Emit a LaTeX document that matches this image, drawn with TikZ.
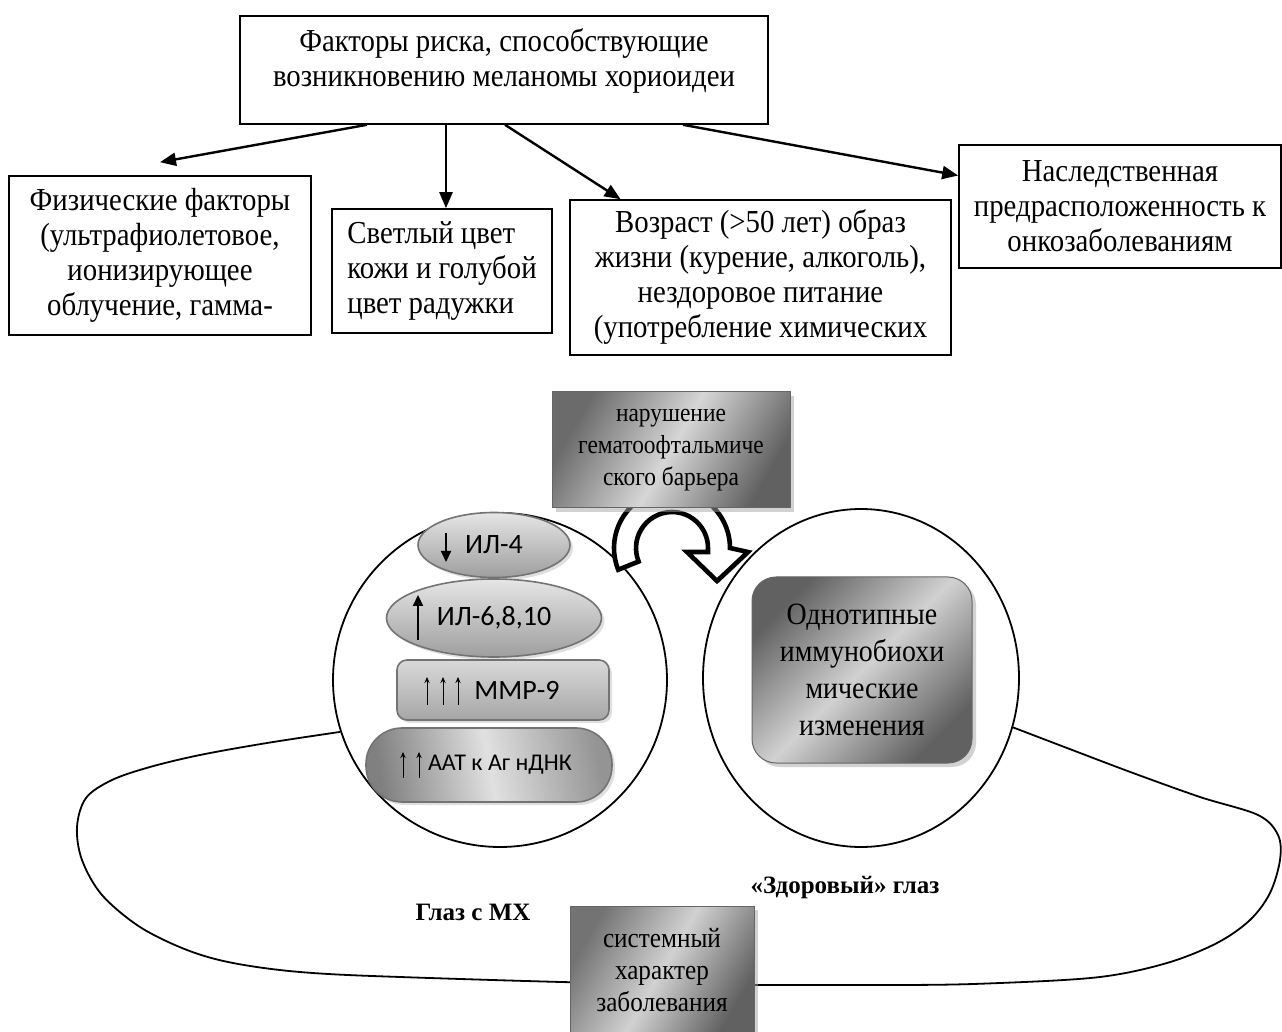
\documentclass[tikz,border=0pt]{standalone}
\usepackage{fontspec}
\setmainfont{Liberation Serif}
\newfontfamily\boxserif[FakeStretch=0.9]{Liberation Serif}
\newfontfamily\calibrifont{Carlito}
\usetikzlibrary{arrows.meta,shapes.geometric,shadows}

\begin{document}
\begin{tikzpicture}[x=0.5pt,y=-0.5pt,
    factor/.style={draw, line width=0.8pt, align=center, inner sep=0pt,
        font=\boxserif\fontsize{16}{17.5}\selectfont},
    link/.style={line width=1.2pt, -{Triangle[length=8pt,width=6.5pt]}},
    eye/.style={ellipse, draw, line width=0.9pt, inner sep=0pt},
    shadebox/.style={draw=black!60, line width=0.5pt, align=center, inner sep=0pt,
        drop shadow={shadow xshift=2pt, shadow yshift=-2pt, fill=black!35}},
    marker/.style={draw=black!55, line width=0.8pt, inner sep=0pt,
        font=\calibrifont\fontsize{14}{16}\selectfont,
        drop shadow={shadow xshift=1.5pt, shadow yshift=-1.5pt, fill=black!25}},
    level/.style={line width=1.1pt, -{Triangle[length=5.5pt,width=5pt]}},
    thinlevel/.style={line width=0.5pt, -{Stealth[length=3pt,width=2.6pt]}},
    uturn/.style={draw, fill=white, line width=2.3pt, line join=miter,
        drop shadow={shadow xshift=1pt, shadow yshift=-1pt, fill=black!30}},
    eyelabel/.style={font=\bfseries\fontsize{12.5}{14}\selectfont}
]
\useasboundingbox (0,0) rectangle (1282,1032);

% risk factors
\node[factor, minimum width=264pt, minimum height=54pt] (risk) at (504,70)
    {Факторы риска, способствующие\\возникновению меланомы хориоидеи\\[-5pt]};
\node[factor, minimum width=151pt, minimum height=79.5pt] (physical) at (160,255.5)
    {Физические факторы\\(ультрафиолетовое,\\ионизирующее\\облучение, гамма-};
\node[factor, minimum width=110pt, minimum height=62pt, align=left] (colour) at (442,271)
    {Светлый цвет\\кожи и голубой\\цвет радужки};
\node[factor, minimum width=190.5pt, minimum height=77.5pt] (lifestyle) at (760.5,277.5)
    {Возраст (>50 лет) образ\\жизни (курение, алкоголь),\\нездоровое питание\\(употребление химических};
\node[factor, minimum width=161pt, minimum height=61.5pt] (heredity) at (1120,206.5)
    {Наследственная\\предрасположенность к\\онкозаболеваниям};

\draw[link] ([shift={(-137,0)}]risk.south) -- ([shift={(0,-13)}]physical.north);
\draw[link] ([shift={(-58,0)}]risk.south) -- ([shift={(4,0)}]colour.north);
\draw[link] ([shift={(1,0)}]risk.south) -- ([shift={(-140,0)}]lifestyle.north);
\draw[link] ([shift={(179,0)}]risk.south) -- ([shift={(0,-31)}]heredity.west);

% eyes
\node[eye, minimum width=167pt, minimum height=167pt] (tumoreye) at (500,680) {};
\node[eye, minimum width=158pt, minimum height=169pt] (healthyeye) at (861,678) {};

\draw[line width=0.9pt] plot[smooth, tension=0.55] coordinates {(tumoreye.198)
    (267,743) (200,755) (150,767) (112,780) (86,798) (77,827) (82,860)
    (102,895) (140,927) (187,950) (233,963) (300,972) (400,977) (650,984)
    (900,985) (1000,983) (1100,977) (1167,963) (1217,943) (1250,920) (1270,893)
    (1280,860) (1278,835) (1258,815) (1200,797) (1133,773) (1067,748)
    (healthyeye.342)};

\draw[uturn] (672,548) ++(158:58) arc[start angle=158, end angle=360, radius=58]
    -- (748,552) -- (717,581) -- (687,552) -- (708,552) -- (708,548)
    arc[start angle=0, end angle=-202, radius=36] -- cycle;

\node[shadebox, left color=black!58, right color=black!62, middle color=black!16,
    shading angle=60, minimum width=119pt, minimum height=58pt,
    font=\boxserif\fontsize{13}{16}\selectfont] (barrier) at (671,450)
    {нарушение\\гематоофтальмиче\\ского барьера};

\node[marker, ellipse, top color=black!10, bottom color=black!38,
    minimum width=76pt, minimum height=32.5pt] (il4) at (494,545) {ИЛ-4};
\node[marker, ellipse, top color=black!10, bottom color=black!38,
    minimum width=107.5pt, minimum height=39pt] (il6) at (494,618) {ИЛ-6,8,10};
\node[marker, rounded corners=5pt, top color=black!15, bottom color=black!35,
    minimum width=106pt, minimum height=30pt] (mmp) at (503,690) {\hspace*{14pt}ММР-9};
\node[marker, rounded corners=18pt, left color=black!50, right color=black!42,
    middle color=black!12, shading angle=100, minimum width=123pt, minimum height=37pt,
    font=\calibrifont\fontsize{12}{14}\selectfont] (aat) at (489,765)
    {\hspace*{11pt}ААТ к Аг нДНК};

\draw[level] ([shift={(-48,-12)}]il4.center) -- ([shift={(-48,17)}]il4.center);
\draw[level] ([shift={(-76,22)}]il6.center) -- ([shift={(-76,-23)}]il6.center);
\foreach \dx in {-76,-60,-45}
    \draw[thinlevel] ([shift={(\dx,15)}]mmp.center) -- ([shift={(\dx,-13)}]mmp.center);
\foreach \dx in {-86,-70}
    \draw[thinlevel] ([shift={(\dx,13)}]aat.center) -- ([shift={(\dx,-13)}]aat.center);

\node[shadebox, rounded corners=12pt, left color=black!62, right color=black!62,
    middle color=black!18, shading angle=45, minimum width=110pt, minimum height=93pt,
    font=\boxserif\fontsize{15.5}{18.5}\selectfont] (changes) at (862,670)
    {Однотипные\\иммунобиохи\\мические\\изменения};

\node[shadebox, left color=black!55, right color=black!62, middle color=black!18,
    shading angle=60, minimum width=92pt, minimum height=64pt,
    font=\boxserif\fontsize{14}{16}\selectfont] (systemic) at (662,970)
    {системный\\характер\\заболевания};

\node[eyelabel] (tumorlabel) at (473,912) {Глаз с МХ};
\node[eyelabel] (healthylabel) at (845,888) {«Здоровый» глаз};
\end{tikzpicture}
\end{document}
